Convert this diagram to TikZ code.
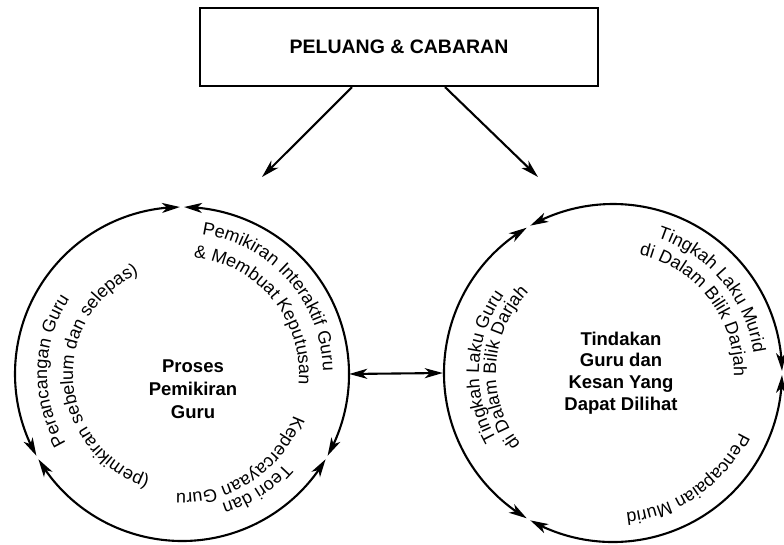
\documentclass[tikz,border=0pt]{standalone}
\usepackage{fontspec}
\setmainfont{Liberation Sans}
\usetikzlibrary{arrows.meta,bending,decorations.text}
\newcommand\circfont{\fontsize{18}{20}\selectfont}
\newcommand\curvtxt[4]{%
  \path[decorate,decoration={text along path,text align=center,text={|\circfont|#4}}]
    (#1) ++({#2+85}:#3) arc[start angle={#2+85}, end angle={#2-85}, radius=#3];}
\begin{document}
\begin{tikzpicture}[x=1pt,y=1pt,
  tipst/.tip={Stealth[length=18pt,width=10pt,inset=5pt]},
  arcline/.style={line width=2.1pt, tipst-tipst},
  conn/.style={line width=2.1pt, -tipst},
  dbl/.style={line width=2.1pt, tipst-tipst},
  boxst/.style={draw, line width=2.1pt, minimum width=398pt, minimum height=78pt, inner sep=0pt,
    font=\bfseries\fontsize{19.5}{22}\selectfont},
  ring/.style={circle, draw=none, inner sep=0pt},
  lab/.style={align=center, font=\bfseries\fontsize{18.5}{23}\selectfont}]
\fill[white] (0,0) rectangle (784,544);
\useasboundingbox (0,0) rectangle (784,544);

% top box
\node[boxst] (box) at (399,497) {PELUANG \& CABARAN};
\coordinate (t1) at (262,367);
\coordinate (t2) at (538,367);
\draw[conn] ([xshift=-47pt]box.south) -- (t1);
\draw[conn] ([xshift=46pt]box.south) -- (t2);

% left circle
\node[ring, minimum size=334pt] (LC) at (182,170) {};
\draw[arcline] (LC.center) ++(90.7:167) arc[start angle=90.7, end angle=209.3, radius=167];
\draw[arcline] (LC.center) ++(210.7:167) arc[start angle=210.7, end angle=329.3, radius=167];
\draw[arcline] (LC.center) ++(-29.3:167) arc[start angle=-29.3, end angle=89.3, radius=167];
\node[lab] (lcl) at (193,155) {Proses\\Pemikiran\\Guru};
\curvtxt{LC.center}{41.5}{141}{Pemikiran Interaktif Guru}
\curvtxt{LC.center}{39.5}{117}{{\&} Membuat Keputusan}
\curvtxt{LC.center}{178.5}{135}{Perancangan Guru}
\curvtxt{LC.center}{183}{109}{(pemikiran sebelum dan selepas)}
\curvtxt{LC.center}{-57}{136}{Teori dan}
\curvtxt{LC.center}{-56.5}{119}{Kepercayaan Guru}

% right circle
\node[ring, minimum size=340pt] (RC) at (613,171) {};
\draw[arcline] (RC.center) ++(0.7:169) arc[start angle=0.7, end angle=119.3, radius=169];
\draw[arcline] (RC.center) ++(120.7:169) arc[start angle=120.7, end angle=239.3, radius=169];
\draw[arcline] (RC.center) ++(240.7:169) arc[start angle=240.7, end angle=359.3, radius=169];
\node[lab, font=\bfseries\fontsize{18.5}{21.7}\selectfont] (rcl) at (621,171) {Tindakan\\Guru dan\\Kesan Yang\\Dapat Dilihat};
\curvtxt{RC.center}{40}{142}{Tingkah Laku Murid}
\curvtxt{RC.center}{38}{121}{di Dalam Bilik Darjah}
\curvtxt{RC.center}{177}{134}{Tingkah Laku Guru}
\curvtxt{RC.center}{177}{117}{di Dalam Bilik Darjah}
\curvtxt{RC.center}{-55}{140}{Pencapaian Murid}

% link between circles
\draw[dbl] (LC.east) -- (RC.west);
\end{tikzpicture}
\end{document}
